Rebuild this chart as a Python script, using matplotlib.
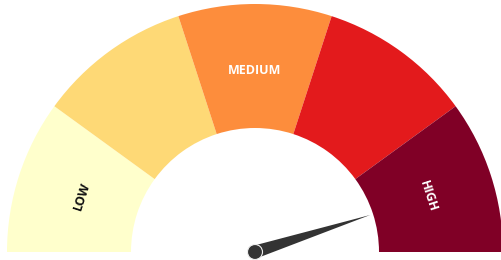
import matplotlib.pyplot as plt
from matplotlib.patches import Wedge, Polygon, Circle
import numpy as np

# gauge bands on a 0-100 scale
band_edges = [0, 20, 40, 60, 80, 100]
band_colors = ["#ffffcc", "#fed976", "#fd8d3c", "#e31a1c", "#800026"]
band_labels = ["LOW", "", "MEDIUM", "", "HIGH"]
label_colors = ["#111111", "#111111", "#ffffff", "#ffffff", "#ffffff"]
needle_value = 90.1

CX, CY = 255, 8
R_OUT, R_IN = 248, 124


def value_to_angle(v):
    return 180 - v / 100 * 180


fig = plt.figure(figsize=(5.02, 2.60), dpi=100)
ax = fig.add_axes([0, 0, 1, 1])
ax.set_xlim(0, 502)
ax.set_ylim(0, 260)
ax.set_aspect("equal")
ax.axis("off")

for i in range(len(band_colors)):
    a1 = value_to_angle(band_edges[i + 1])
    a2 = value_to_angle(band_edges[i])
    ax.add_patch(Wedge((CX, CY), R_OUT, a1, a2, width=R_OUT - R_IN,
                       facecolor=band_colors[i], edgecolor="none"))
    if band_labels[i]:
        mid = np.radians((a1 + a2) / 2)
        rr = 182
        rot = np.degrees(mid) - 90
        ax.text(CX + rr * np.cos(mid), CY + rr * np.sin(mid),
                band_labels[i], rotation=rot, ha="center", va="center",
                rotation_mode="anchor",
                color=label_colors[i], fontsize=9, fontweight="bold",
                family="Open Sans")

# needle
ang = np.radians(value_to_angle(needle_value))
tip = (CX + 121 * np.cos(ang), CY + 121 * np.sin(ang))
perp = np.array([-np.sin(ang), np.cos(ang)])
hw = 6.5
base1 = np.array([CX, CY]) + perp * hw
base2 = np.array([CX, CY]) - perp * hw
ax.add_patch(Polygon([base1, tip, base2], closed=True, facecolor="#333333",
                     edgecolor="none"))
ax.add_patch(Circle((CX, CY), 7.5, facecolor="#333333", edgecolor="#eeeeee",
                    linewidth=0.8))

fig.savefig("out.png", dpi=100)
